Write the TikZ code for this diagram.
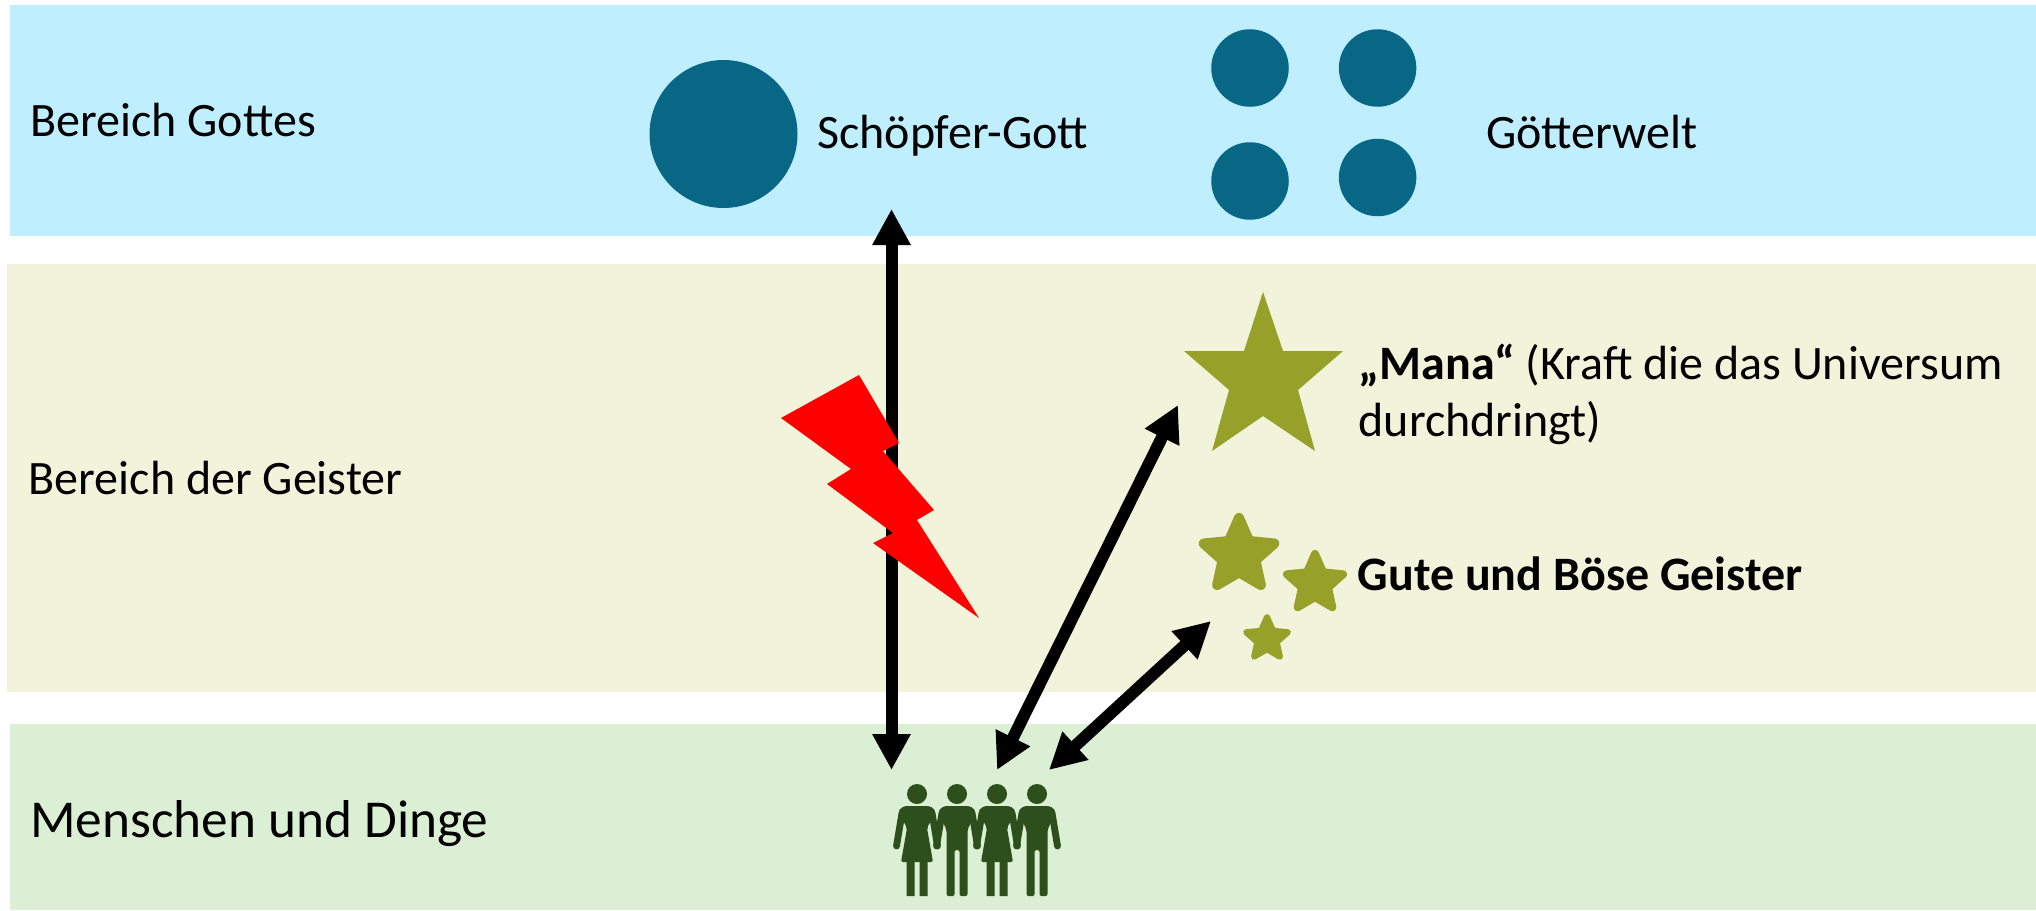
\documentclass[tikz,border=0pt]{standalone}
\usepackage{fontspec}
\setmainfont{Carlito}
\usetikzlibrary{arrows.meta,shapes.geometric}
\definecolor{bandblue}{HTML}{BFEEFF}
\definecolor{bandyellow}{HTML}{F1F4DA}
\definecolor{bandgreen}{HTML}{DBEFD4}
\definecolor{teal}{HTML}{076785}
\definecolor{olive}{HTML}{97A12A}
\definecolor{people}{HTML}{2D4F1B}
\tikzset{
  label text/.style={anchor=base west,inner sep=0pt,font=\fontsize{48}{48}\selectfont,text=black},
  god/.style={circle,fill=teal,inner sep=0pt,outer sep=0pt},
  small star/.style={star,star points=5,star point ratio=2.15,fill=olive,draw=olive,line join=round,inner sep=0pt,outer sep=0pt},
  big arrow/.style={line width=12pt,{Triangle[length=36pt,width=36pt]}-{Triangle[length=36pt,width=36pt]},black},
  arms/.pic={
    \fill[people] (0,0) circle (10);
    \draw[people,line width=6.8pt,line cap=round] (-15,19) -- (-20.5,52);
    \draw[people,line width=6.8pt,line cap=round] (15,19) -- (20.5,52);
  },
  man/.pic={
    \pic {arms};
    \fill[people,rounded corners=2pt] (-13,12) -- (13,12) -- (19,17) -- (10.5,36) -- (10.5,102) -- (2.5,102) -- (2.5,56) -- (-2.5,56) -- (-2.5,102) -- (-10.5,102) -- (-10.5,36) -- (-19,17) -- cycle;
  },
  woman/.pic={
    \pic {arms};
    \fill[people,rounded corners=2pt] (-13,12) -- (13,12) -- (19,17) -- (10,34) -- (16,68) -- (-16,68) -- (-10,34) -- (-19,17) -- cycle;
    \fill[people] (-10.5,66) rectangle (-2.5,102) (2.5,66) rectangle (10.5,102);
  }
}
\begin{document}
\begin{tikzpicture}[x=1pt,y=-1pt]
\useasboundingbox (0,0) rectangle (2036,910);
% bands
\fill[bandblue] (10,5) rectangle (2036,236);
\fill[bandyellow] (7,264) rectangle (2036,692);
\fill[bandgreen] (10,724) rectangle (2036,910);
% gods
\node[god,minimum size=148pt] (creator) at (723.5,134) {};
\node[god,minimum size=77.5pt] (g1) at (1250,68) {};
\node[god,minimum size=77.5pt] (g2) at (1377.6,68) {};
\node[god,minimum size=77.5pt] (g3) at (1250,181) {};
\node[god,minimum size=77.5pt] (g4) at (1377.6,177.5) {};
% stars
\fill[olive] (1263,292) -- (1283,351) -- (1343,351) -- (1298,390) -- (1315,451) -- (1263,416) -- (1212,451) -- (1229,390) -- (1184,351) -- (1244,351) -- cycle;
\node[small star,minimum size=74.4pt,line width=10pt] (s1) at (1239,555) {};
\node[small star,minimum size=58.8pt,line width=8pt] (s2) at (1315,583.4) {};
\node[small star,minimum size=44pt,line width=6pt] (s3) at (1267,639) {};
% people
\pic at (917,794) {woman};
\pic at (957,794) {man};
\pic at (997,794) {woman};
\pic at (1037,794) {man};
% arrows
\coordinate (a1t) at (891.5,209);
\coordinate (a1b) at (891.5,770);
\coordinate (a2t) at (1178,405);
\coordinate (a2b) at (997,770);
\coordinate (a3t) at (1211,621);
\coordinate (a3b) at (1049,770);
\draw[big arrow] (a1t) -- (a1b);
\draw[big arrow] (a2t) -- (a2b);
\draw[big arrow] (a3t) -- (a3b);
% lightning
\fill[red] (859,375) -- (899,443) -- (883,451) -- (934,510) -- (917,520) -- (979,618) -- (873,543) -- (893,533) -- (827,484) -- (851,469) -- (781,418) -- cycle;
% texts
\node[label text] (t1) at (30,136) {Bereich Gottes};
\node[label text] (t2) at (28.5,494) {Bereich der Geister};
\node[label text,font=\fontsize{53.3}{53.3}\selectfont] (t3) at (30,837) {Menschen und Dinge};
\node[label text] (t4) at (817,148) {Schöpfer-Gott};
\node[label text] (t5) at (1486,148) {Götterwelt};
\node[label text] (t6) at (1358.5,379) {\textbf{„Mana“} (Kraft die das Universum};
\node[label text] (t7) at (1358.5,436) {durchdringt)};
\node[label text] (t8) at (1357.5,590) {\textbf{Gute und Böse Geister}};
\end{tikzpicture}
\end{document}
